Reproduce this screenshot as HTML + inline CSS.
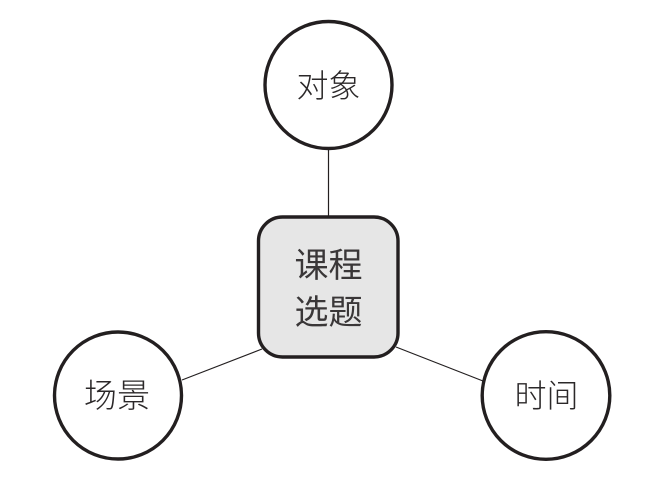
<!DOCTYPE html>
<html>
<head>
<meta charset="utf-8">
<style>
html,body{margin:0;padding:0;background:#fff;width:656px;height:498px;overflow:hidden}
svg{display:block}
text{font-family:"Liberation Sans","Noto Sans CJK SC",sans-serif;font-size:32px;font-weight:300;fill:#2b2829;text-anchor:middle}
text.c{font-size:34px;font-weight:400;fill:#3a3738}
</style>
</head>
<body>
<svg width="656" height="498" viewBox="0 0 656 498" xmlns="http://www.w3.org/2000/svg">
<g stroke="#231f20" stroke-width="1.2" fill="none">
<line x1="328.5" y1="148" x2="328.5" y2="217"/>
<line x1="182" y1="380" x2="262" y2="349"/>
<line x1="396" y1="347" x2="483" y2="381"/>
</g>
<g stroke="#231f20" stroke-width="3.4" fill="#fff">
<circle cx="328.5" cy="85" r="63.5"/>
<circle cx="118" cy="395.5" r="63.5"/>
<circle cx="546" cy="395.5" r="63.8"/>
<rect x="258.5" y="217" width="139.5" height="140" rx="24" ry="24" fill="#e6e6e6"/>
</g>
<text x="328.5" y="97">对象</text>
<text class="c" x="328.5" y="277">课程</text>
<text class="c" x="328.5" y="324">选题</text>
<text x="117" y="407" style="font-size:33px">场景</text>
<text x="546.5" y="407">时间</text>
</svg>
</body>
</html>
